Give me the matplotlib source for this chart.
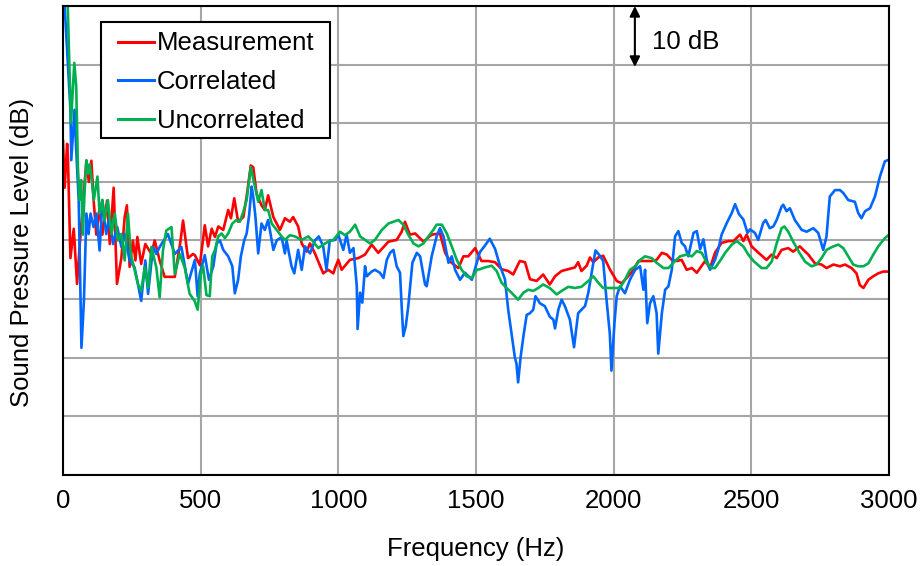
import matplotlib
matplotlib.use("Agg")
import matplotlib.pyplot as plt
from matplotlib.patches import Rectangle

plt.rcParams['font.family'] = ['Liberation Sans', 'DejaVu Sans']

# ---------------- data ----------------
series_names = ["Measurement", "Correlated", "Uncorrelated"]
x_ticks = [0, 500, 1000, 1500, 2000, 2500, 3000]

meas_f = [0, 6, 15, 18, 27, 39, 51, 61, 85, 94, 103, 111, 121, 133, 143, 160, 170, 184, 196, 212,
          224, 232, 242, 254, 263, 270, 284, 299, 321, 333, 351, 369, 406, 427, 436, 454, 472,
          479, 497, 515, 527, 540, 552, 564, 582, 600, 610, 622, 636, 655, 667, 682, 691, 703, 721,
          733, 745, 764, 788, 806, 824, 836, 854, 867, 885, 897, 915, 945, 963, 982,
          988, 1000, 1012, 1042, 1073, 1097, 1121, 1145, 1182, 1212, 1230, 1242, 1260, 1279, 1309,
          1339, 1369, 1388, 1406, 1436, 1454, 1472, 1497,
          1520, 1544, 1569, 1593, 1617, 1635, 1659, 1678, 1696, 1720, 1744, 1768, 1787, 1811, 1835,
          1859, 1871, 1883, 1902, 1914, 1926, 1944, 1962, 1986,
          2011, 2029, 2047, 2072, 2090, 2114, 2138, 2156, 2175, 2193, 2211, 2229, 2247, 2265, 2284,
          2302, 2332, 2350, 2368, 2392, 2417, 2435, 2459, 2471, 2483, 2501,
          2526, 2555, 2574, 2592, 2610, 2634, 2652, 2676, 2689, 2707, 2731, 2755, 2773, 2798, 2822,
          2840, 2864, 2882, 2894, 2907, 2925, 2943, 2961, 2979, 3000]
meas_db = [57, 49, 56.5, 54, 37, 42, 32.6, 39.4, 53.6, 50, 53.6, 47, 41, 45.7, 41, 46.8, 39.4, 49, 32.6, 37,
           44, 46, 35.5, 40, 36.6, 40.6, 36, 39.4, 37.7, 40, 36.6, 33.8, 33.8, 40, 43.4, 37, 37.7,
           37.5, 35.8, 42.6, 39, 42, 40.6, 42.4, 41.8, 45.2, 43.8, 47.2, 43.2, 44, 47.5, 52.8, 52.5, 48, 46,
           45.2, 47.7, 44, 41.8, 43.8, 43.2, 44, 42.4, 39.5, 38.1, 39.5, 37.8, 34.4, 35, 34.4,
           35.3, 36.7, 35, 36.7, 37, 37.6, 39.3, 37.9, 39.8, 40.1, 41.5, 43.2, 41, 41.2, 39.8,
           41, 41.2, 37.9, 36.4, 35.3, 37.3, 37.3, 38.7,
           36.5, 36.5, 36.3, 35.1, 34.8, 34.2, 36.5, 36.3, 33.4, 33.1, 34.2, 32.5, 33.9, 34.8, 35.1,
           35.4, 36.3, 34.8, 35.7, 37.1, 36.3, 37.1, 37.4, 35.1,
           33.1, 32.7, 33.6, 35, 36.5, 36.5, 36.5, 36.7, 37.9, 37.6, 36.7, 36.5, 36.7, 35, 35.3,
           34.5, 36.5, 35.3, 37.9, 39.6, 39.9, 39.9, 41, 39.9, 41, 39,
           37.9, 36.7, 37.6, 37, 38.4, 38.7, 38.1, 39, 38.4, 37.6, 36.1, 35.9, 35.3, 35.9, 35.6,
           35.9, 35.3, 34.4, 32.4, 31.9, 33.3, 33.9, 34.4, 34.7, 34.7]

corr_f = [0, 6, 27, 30, 42, 48, 57, 67, 76, 85, 93, 100, 111, 121, 133, 143, 157, 169, 182, 197,
          212, 224, 242, 260, 272, 284, 299, 309, 327, 339, 351, 381, 406, 430, 454,
          479, 489, 497, 515, 530, 546, 558, 570, 582, 600, 615, 624, 636, 646, 658, 667, 676, 685,
          691, 699, 709, 721, 733, 745, 764, 776, 794, 806, 812, 830, 840, 854, 867, 879, 897, 915,
          929, 945, 957, 969,
          988, 1000, 1018, 1030, 1042, 1055, 1067, 1070, 1079, 1087, 1097, 1103, 1121, 1133, 1151,
          1164, 1176, 1188, 1200, 1212, 1224, 1230, 1236, 1245, 1254, 1269, 1285, 1297, 1315, 1321,
          1339, 1357, 1369, 1382, 1400, 1412, 1424, 1442, 1460, 1485,
          1496, 1514, 1532, 1550, 1569, 1587, 1605, 1617, 1629, 1641, 1647, 1653, 1662, 1672, 1684,
          1696, 1708, 1716, 1732, 1750, 1768, 1781, 1787, 1799, 1811, 1823, 1841, 1856, 1871, 1883,
          1896, 1908, 1920, 1934, 1950, 1962, 1974, 1986, 1992,
          2003, 2011, 2023, 2041, 2059, 2078, 2096, 2108, 2114, 2122, 2132, 2144, 2156, 2162, 2175,
          2187, 2199, 2211, 2223, 2235, 2247, 2259, 2271, 2290, 2302, 2314, 2326, 2338, 2350, 2368,
          2380, 2392, 2411, 2429, 2441, 2455, 2471, 2486, 2495,
          2513, 2525, 2543, 2552, 2567, 2580, 2592, 2610, 2616, 2628, 2640, 2658, 2683, 2701, 2725,
          2743, 2761, 2773, 2785, 2804, 2822, 2834, 2852, 2876, 2888, 2900, 2913, 2931, 2949, 2967,
          2985, 3000]
corr_db = [90, 80, 62.3, 53.7, 62.3, 55.4, 46.9, 21.7, 29.7, 44.6, 41.1, 44.6, 42.3, 44.6, 38.3, 46.9, 41.1, 44, 39.4, 42.3,
           38.9, 41.1, 36.6, 35.4, 32.6, 29.7, 36.6, 30.9, 38.9, 37.7, 38.9, 41.1, 37.7, 38.9, 32.6,
           36.7, 30.5, 34.4, 37.5, 33.3, 35.6, 39.5, 40, 38.4, 37.3, 35.6, 31, 33.3, 37.3, 40, 41.2, 44.3, 49.2,
           47.5, 44, 37.8, 42.9, 41.8, 43.5, 38.4, 40, 40.6, 37.8, 40, 35.6, 34.4, 38.4, 35, 39, 37.8, 40,
           40.7, 39, 35, 40,
           40.1, 41, 38.4, 41, 37.9, 38.7, 32.2, 24.9, 31.1, 29.4, 35.6, 33.9, 34.7, 35, 34.5,
           33.6, 36.7, 37.9, 38.4, 35.6, 34.5, 28.8, 23.7, 25.4, 28.8, 36.2, 37.9, 37.3, 32.5, 32.2,
           37.3, 40.7, 42.1, 40.7, 36.2, 37.3, 35, 33.3, 34.5, 33.3,
           35.1, 38, 39.1, 40.3, 38.6, 35.7, 33.4, 28.2, 24.1, 20.1, 19, 15.8, 20.1, 23.6, 27.3,
           27.6, 28.2, 30.5, 29.3, 28.8, 27, 26.5, 25, 28.2, 29.9, 28.8, 26.5, 21.8, 27.6, 28.2,
           28.8, 31.1, 34.5, 38.3, 37.4, 36.5, 29.9, 24.1, 17.8,
           26, 30.5, 32.2, 31, 33.3, 35, 35.6, 31.6, 35, 25.9, 29.3, 30.5, 27.6, 20.7, 27.6,
           31.6, 32.2, 35, 40.7, 41.6, 39.6, 39, 37.3, 41.3, 41.6, 38.5, 40.2, 36.7, 35, 36.7,
           38.5, 41, 43, 44.7, 46.2, 44.5, 43.6, 41.3, 41.9,
           41.3, 40.1, 43, 43.5, 42.1, 42.4, 43.5, 45.8, 46.1, 45, 45.5, 43.5, 41.8, 41.5, 42.1,
           41.3, 38.4, 40.7, 47.5, 48.6, 48.6, 48.1, 46.9, 46.6, 44.7, 43.8, 45, 45.5, 47.5, 50.9,
           53.5, 53.8]

unc_f = [0, 16, 29, 41, 48, 54, 60, 66, 72, 79, 85, 91, 97, 103, 112, 125, 133, 143, 151, 163,
         176, 188, 200, 212, 224, 236, 246, 258, 272, 284, 297, 309, 321, 339, 351, 363, 375, 394,
         406, 424, 442, 460, 478,
         489, 501, 509, 521, 533, 542, 552, 564, 576, 588, 600, 615, 630, 642, 655, 667, 682, 695,
         709, 721, 733, 745, 758, 776, 794, 806, 824, 842, 867, 891, 909, 927, 945, 963, 982,
         1006, 1024, 1042, 1061, 1079, 1097, 1115, 1133, 1158, 1182, 1200, 1218, 1236, 1254, 1273,
         1291, 1309, 1327, 1345, 1357, 1376, 1394, 1412, 1430, 1448, 1466, 1485,
         1503, 1514, 1532, 1557, 1575, 1593, 1611, 1629, 1653, 1672, 1690, 1708, 1726, 1744, 1768,
         1793, 1811, 1835, 1859, 1883, 1908, 1926, 1944, 1962, 1992,
         2023, 2041, 2059, 2078, 2096, 2114, 2138, 2156, 2181, 2199, 2217, 2241, 2265, 2284, 2302,
         2320, 2338, 2356, 2368, 2386, 2405, 2429, 2447, 2471, 2489, 2508,
         2537, 2555, 2574, 2592, 2610, 2620, 2634, 2652, 2676, 2695, 2719, 2737, 2755, 2773, 2798,
         2816, 2834, 2852, 2870, 2888, 2907, 2925, 2943, 2961, 2985, 3000]
unc_db = [95, 82, 60, 70.3, 66.3, 52.6, 46.9, 50.3, 41, 49, 53.7, 51.4, 53, 50.9, 46.9, 50.9, 44.6, 46.9, 43.4, 46.9,
          41.1, 44.6, 40, 41.1, 36.6, 44.6, 37.7, 35.4, 32.6, 31.4, 35.4, 32, 38.9, 35.4, 30.3, 38.3, 41.7, 42.3,
          34.3, 37.7, 35.4, 30.9, 29.7,
          28.2, 34.4, 35.6, 30.7, 30.5, 37.3, 38.4, 40.7, 41.2, 40.4, 41.2, 42.9, 43.5, 43.2, 44.9, 46.9, 52.5, 49.7,
          46.6, 48.6, 45.2, 45.2, 42.9, 41.8, 40.7, 40.1, 40.9, 40.7, 40.1, 40.7, 39.8, 38.7, 39.3, 39.8, 40.1,
          41.5, 40.9, 41.5, 42.7, 40.7, 40.1, 39.5, 40.1, 41.8, 42.9, 43.2, 43.5, 42.7, 41, 39.5,
          39, 39.5, 40.7, 41.8, 42.7, 42.7, 41.2, 39, 36.7, 35, 33.9, 33.6,
          35, 35.1, 35.4, 35.7, 34.8, 32.8, 31.9, 31.1, 29.9, 31.1, 31.6, 31.4, 31.9, 32.5, 31.9,
          30.8, 31.4, 32.1, 31.9, 32.1, 33.1, 33.9, 32.8, 31.9, 31.9,
          31.9, 33.3, 35, 35.6, 36.7, 37.3, 37, 36.2, 35.3, 35.3, 36.2, 37.3, 37.6, 37.3, 38.2,
          37.9, 36.2, 35.3, 35.3, 36.5, 37.9, 39.3, 39.9, 39, 37.6, 36.5,
          35.3, 35.3, 36.4, 39.5, 42.1, 42.4, 41.5, 39.8, 37.8, 36.4, 35.6, 35.9, 37, 38.4, 39,
          39.3, 38.7, 37.3, 35.9, 35.6, 35.6, 36.1, 37.6, 39, 40.4, 41]

colors = ["#ff0000", "#0066ff", "#00b050"]

# ---------------- figure ----------------
W, H = 924, 566
FS = 18.5
fig = plt.figure(figsize=(W / 100, H / 100), dpi=100)
ax = fig.add_axes([63 / W, 91 / H, 826 / W, 469 / H])

for f, d, c, n in zip([meas_f, corr_f, unc_f], [meas_db, corr_db, unc_db], colors, series_names):
    ax.plot(f, d, color=c, lw=1.9, label=n, zorder=3)

ax.set_xlim(0, 3000)
ax.set_ylim(0, 80)
ax.set_xticks(x_ticks)
ax.set_xticklabels([str(t) for t in x_ticks])
ax.set_yticks(range(0, 81, 10))
ax.set_yticklabels([])
ax.tick_params(length=0, labelsize=FS, pad=10)
ax.grid(True, color="#a6a6a6", lw=1.5)
ax.set_axisbelow(True)
for s in ax.spines.values():
    s.set_color("black")
    s.set_linewidth(1.5)
    s.set_zorder(4)

fig.text(476 / W, 1 - 549 / H, "Frequency (Hz)", ha="center", va="center", fontsize=FS)
fig.text(22 / W, 1 - 252 / H, "Sound Pressure Level (dB)", ha="center", va="center",
         rotation=90, fontsize=FS)

# legend box
x0 = (100.7 - 63) / 826
x1 = (330 - 63) / 826
yt = (475 - 21.7) / 469
yb = (475 - 137.7) / 469
ax.add_patch(Rectangle((x0, yb), x1 - x0, yt - yb, transform=ax.transAxes,
                       facecolor="white", edgecolor="black", lw=1.5, zorder=5))
leg = ax.legend(loc="upper left", bbox_to_anchor=((117.7 - 63) / 826, (475 - 31.5) / 469),
                borderaxespad=0, borderpad=0, frameon=False, fontsize=FS,
                handlelength=1.4, handletextpad=0.12, labelspacing=0.58)
leg.set_zorder(6)
for line in leg.get_lines():
    line.set_linewidth(2.2)

# 10 dB scale arrow
ax.annotate("", xy=(2077, 80), xytext=(2077, 69.6),
            arrowprops=dict(arrowstyle="<|-|>", color="black", lw=1.5,
                            mutation_scale=15, shrinkA=0, shrinkB=0), zorder=6)
ax.text(2139, 73.9, "10 dB", ha="left", va="center", fontsize=FS, zorder=6)

fig.savefig("out.png", dpi=100)
